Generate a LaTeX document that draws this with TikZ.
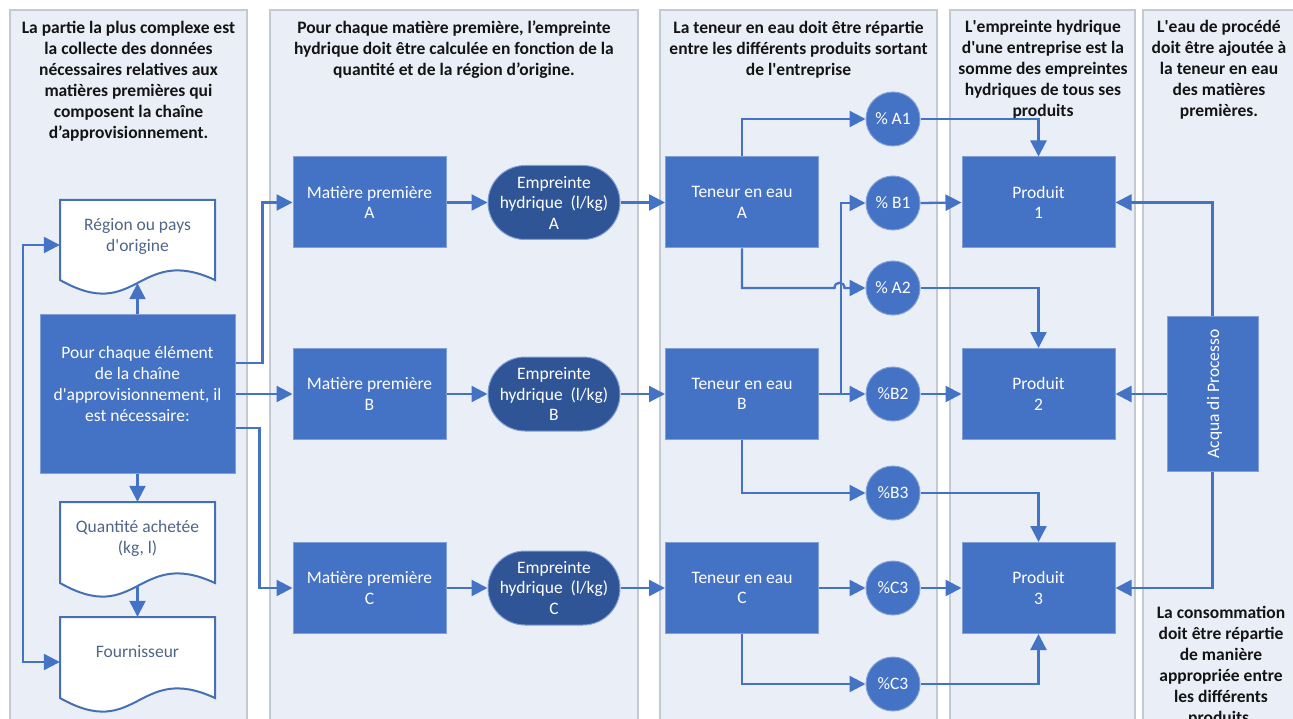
\documentclass[tikz,border=0pt]{standalone}
\usepackage{fontspec}
\setmainfont{Carlito}
\usetikzlibrary{arrows.meta,calc,shapes.misc}

\definecolor{boxblue}{RGB}{68,114,196}
\definecolor{darkblue}{RGB}{47,85,151}
\definecolor{laneFill}{RGB}{234,239,247}
\definecolor{laneLine}{RGB}{196,202,212}
\definecolor{boxLine}{RGB}{130,160,215}
\definecolor{docLine}{RGB}{70,112,180}
\definecolor{docText}{RGB}{80,102,136}
\definecolor{titleText}{RGB}{20,20,20}

\newcommand\ap{\textquotesingle}

\begin{document}
\begin{tikzpicture}[x=1pt,y=-1pt,
  lane/.style={fill=laneFill,draw=laneLine,line width=1.4pt},
  title/.style={font=\bfseries\fontsize{17.5}{21}\selectfont,text=titleText,
                align=center,anchor=north,inner sep=0pt},
  proc/.style={rectangle,fill=boxblue,draw=boxLine,line width=1pt,
               minimum width=153pt,minimum height=91pt,inner sep=0pt,
               text=white,font=\fontsize{17.5}{20.5}\selectfont,align=center},
  foot/.style={rounded rectangle,fill=darkblue,draw=boxLine,line width=1pt,
               minimum width=132pt,minimum height=74pt,inner sep=0pt,
               text=white,font=\fontsize{17.5}{20.5}\selectfont,align=center},
  pct/.style={circle,fill=boxblue,draw=boxLine,line width=1pt,
              minimum size=54pt,inner sep=0pt,text=white,
              font=\fontsize{17.5}{20}\selectfont},
  doctext/.style={rectangle,minimum width=155pt,inner sep=0pt,text=docText,
                  font=\fontsize{17.5}{21}\selectfont,align=center},
  docline/.style={fill=white,draw=docLine,line width=2pt},
  whitetext/.style={text=white,font=\fontsize{17.5}{21}\selectfont,align=center,inner sep=0pt},
  arr/.style={draw=boxblue,line width=2.3pt,-{Triangle[length=16pt,width=16pt]}},
  dblarr/.style={draw=boxblue,line width=2.3pt,
                 {Triangle[length=16pt,width=16pt]}-{Triangle[length=16pt,width=16pt]}}
]
\useasboundingbox (0,0) rectangle (1293,719);
\clip (0,0) rectangle (1293,719);
\fill[white] (0,0) rectangle (1293,719);

% swim lanes
\draw[lane] (10,10) rectangle (247,740);
\draw[lane] (270,10) rectangle (638,740);
\draw[lane] (660,10) rectangle (937,740);
\draw[lane] (950,10) rectangle (1135,740);
\draw[lane] (1143,10) rectangle (1310,740);

% lane headings
\node[title] (t1) at (128.5,20.5) {La partie la plus complexe est\\la collecte des données\\nécessaires relatives aux\\matières premières qui\\composent la chaîne\\d’approvisionnement.};
\node[title] (t2) at (454,20.5) {Pour chaque matière première, l’empreinte\\hydrique doit être calculée en fonction de la\\quantité et de la région d’origine.};
\node[title] (t3) at (798.5,20.5) {La teneur en eau doit être répartie\\entre les différents produits sortant\\de l\ap entreprise};
\node[title] (t4) at (1043,20.5) {L\ap empreinte hydrique\\d\ap une entreprise est la\\somme des empreintes\\hydriques de tous ses\\produits};
\node[title] (t5) at (1219,20.5) {L\ap eau de procédé\\doit être ajoutée à\\la teneur en eau\\des matières\\premières.};
\node[title] (t6) at (1221,605.5) {La consommation\\doit être répartie\\de manière\\appropriée entre\\les différents\\produits.};

% document shapes (wavy bottom)
\filldraw[docline] (60,200) -- (60,280) .. controls (137.5,324) and (137.5,244) .. (215,280) -- (215,200) -- cycle;
\filldraw[docline] (60,502) -- (60,583) .. controls (137.5,627) and (137.5,547) .. (215,583) -- (215,502) -- cycle;
\filldraw[docline] (60,617) -- (60,698) .. controls (137.5,742) and (137.5,662) .. (215,698) -- (215,617) -- cycle;
\node[doctext,minimum height=72pt] (reg) at (137.5,236) {Région ou pays\\d\ap origine};
\node[doctext,minimum height=72pt] (quan) at (137.5,538) {Quantité achetée\\(kg, l)};
\node[doctext,minimum height=70pt] (four) at (137.5,652) {Fournisseur};

% supply-chain element
\node[proc,minimum width=195pt,minimum height=158pt] (main) at (137.5,394) {};
\node[whitetext] (maintxt) at (137.5,383.5) {Pour chaque élément\\de la chaîne\\d\ap approvisionnement, il\\est nécessaire:};

% raw materials
\node[proc] (matA) at (369.5,202.5) {Matière première\\A};
\node[proc] (matB) at (369.5,394) {Matière première\\B};
\node[proc] (matC) at (369.5,588) {Matière première\\C};

% water footprints
\node[foot] (empA) at (554,202.5) {Empreinte\\hydrique\ \ (l/kg)\\A};
\node[foot] (empB) at (554,394) {Empreinte\\hydrique\ \ (l/kg)\\B};
\node[foot] (empC) at (554,588) {Empreinte\\hydrique\ \ (l/kg)\\C};

% water content
\node[proc] (tenA) at (742,202.5) {Teneur en eau\\A};
\node[proc] (tenB) at (742,394) {Teneur en eau\\B};
\node[proc] (tenC) at (742,588) {Teneur en eau\\C};

% shares
\node[pct] (pA1) at (893,119) {\% A1};
\node[pct] (pB1) at (893,203) {\% B1};
\node[pct] (pA2) at (893,288) {\% A2};
\node[pct] (pB2) at (893,394) {\%B2};
\node[pct] (pB3) at (893,493) {\%B3};
\node[pct] (pC3) at (893,588) {\%C3};
\node[pct] (pC3b) at (893,684) {\%C3};

% products
\node[proc] (prod1) at (1038.5,202.5) {Produit\\1};
\node[proc] (prod2) at (1038.5,394) {Produit\\2};
\node[proc] (prod3) at (1038.5,588) {Produit\\3};

% process water
\node[proc,minimum width=91pt,minimum height=154pt] (acq) at (1212.5,394) {};
\node[whitetext,rotate=90] (acqtxt) at ($(acq.center)+(2,0)$) {Acqua di Processo};

% connectors: left lane
\draw[arr] (main.north) -- ($(reg.south)+(0,11)$);
\draw[arr] (main.south) -- (quan.north);
\draw[arr] ($(quan.south)+(0,12)$) -- (four.north);
\draw[dblarr] ($(reg.west)+(0,9)$) -- ++(-37,0) |- ($(four.west)+(0,10)$);

% connectors: to raw materials
\draw[arr] ($(main.east)+(0,-31)$) -- ++(27,0) |- (matA.west);
\draw[arr] (main.east) -- (matB.west);
\draw[arr] ($(main.east)+(0,34)$) -- ++(24,0) |- (matC.west);

% raw material -> footprint -> water content
\draw[arr] (matA.east) -- (empA.west);
\draw[arr] (matB.east) -- (empB.west);
\draw[arr] (matC.east) -- (empC.west);
\draw[arr] (empA.east) -- (tenA.west);
\draw[arr] (empB.east) -- (tenB.west);
\draw[arr] (empC.east) -- (tenC.west);

% water content -> shares
\draw[arr] (tenA.north) |- (pA1.west);
\draw[arr] (tenA.south) |- ($(pA2.west)+(-31,0)$) .. controls +(0,-7) and +(0,-7) .. ++(10,0) -- (pA2.west);
\draw[arr] (tenB.east) -- (pB2.west);
\draw[arr] ($(tenB.east)+(22,0)$) |- (pB1.west);
\draw[arr] (tenB.south) |- (pB3.west);
\draw[arr] (tenC.east) -- (pC3.west);
\draw[arr] (tenC.south) |- (pC3b.west);

% shares -> products
\draw[arr] (pA1.east) -| (prod1.north);
\draw[arr] (pB1.east) -- (prod1.west);
\draw[arr] (pA2.east) -| (prod2.north);
\draw[arr] (pB2.east) -- (prod2.west);
\draw[arr] (pB3.east) -| (prod3.north);
\draw[arr] (pC3.east) -- (prod3.west);
\draw[arr] (pC3b.east) -| (prod3.south);

% process water -> products
\draw[arr] (acq.north) |- (prod1.east);
\draw[arr] (acq.west) -- (prod2.east);
\draw[arr] (acq.south) |- (prod3.east);
\end{tikzpicture}
\end{document}
